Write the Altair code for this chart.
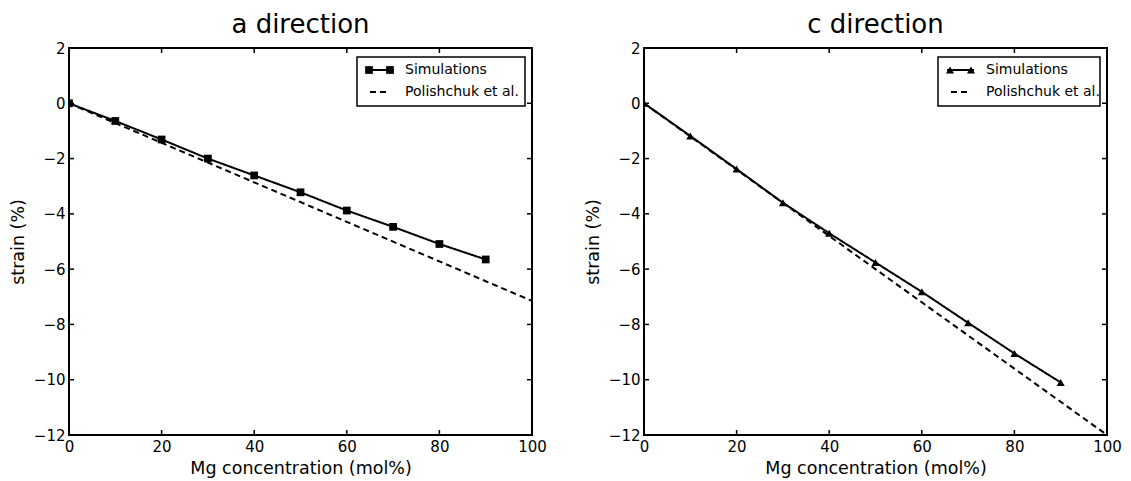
import altair as alt
import pandas as pd

# ---- data ----
conc = [0, 10, 20, 30, 40, 50, 60, 70, 80, 90]
sim_a = [0.0, -0.64, -1.31, -2.00, -2.61, -3.22, -3.88, -4.47, -5.09, -5.65]
sim_c = [0.0, -1.18, -2.38, -3.60, -4.70, -5.76, -6.82, -7.94, -9.05, -10.10]
pol_x = [0, 100]
pol_a = [0.0, -7.15]
pol_c = [0.0, -12.0]
series = ["Simulations", "Polishchuk et al."]
titles = ["a direction", "c direction"]
x_ticks = [0, 20, 40, 60, 80, 100]
y_ticks = [-12, -10, -8, -6, -4, -2, 0, 2]
x_inner = [20, 40, 60, 80]
y_inner = [-10, -8, -6, -4, -2, 0]

W, H = 463, 387
FONT = "DejaVu Sans"
DASH = [6, 4]


def legend_layers(marker, msize, box_w):
    """Legend box drawn in pixel space at the top-right of the panel."""
    x0 = W - 7 - box_w
    x1 = W - 7
    y0, y1 = 9, 58
    r1, r2 = 22, 44
    sx0, sx1 = x0 + 9, x0 + 36
    one = pd.DataFrame({"label": [series[0]]})
    two = pd.DataFrame({"label": [series[1]]})
    box = alt.Chart(one).mark_rect(fill="white", stroke="black", strokeWidth=1.5).encode(
        x=alt.value(x0), x2=alt.value(x1), y=alt.value(y0), y2=alt.value(y1))
    l1 = alt.Chart(one).mark_rule(color="black", strokeWidth=2).encode(
        x=alt.value(sx0), x2=alt.value(sx1), y=alt.value(r1))
    p1a = alt.Chart(one).mark_point(filled=True, shape=marker, size=msize, color="black",
                                    opacity=1).encode(x=alt.value(sx0 + 3), y=alt.value(r1))
    p1b = alt.Chart(one).mark_point(filled=True, shape=marker, size=msize, color="black",
                                    opacity=1).encode(x=alt.value(sx1 - 3), y=alt.value(r1))
    l2 = alt.Chart(two).mark_rule(color="black", strokeWidth=2, strokeDash=DASH).encode(
        x=alt.value(sx0 + 4), x2=alt.value(sx1 - 5), y=alt.value(r2))
    t1 = alt.Chart(one).mark_text(align="left", baseline="middle", font=FONT, fontSize=14,
                                  color="black").encode(
        x=alt.value(sx1 + 12), y=alt.value(r1), text="label:N")
    t2 = alt.Chart(two).mark_text(align="left", baseline="middle", font=FONT, fontSize=14,
                                  color="black").encode(
        x=alt.value(sx1 + 12), y=alt.value(r2), text="label:N")
    return [box, l1, p1a, p1b, l2, t1, t2]


def panel(title, sim, pol, marker, msize, box_w):
    sim_df = pd.DataFrame({"conc": conc, "strain": sim, "series": series[0]})
    pol_df = pd.DataFrame({"conc": pol_x, "strain": pol, "series": series[1]})
    df = pd.concat([sim_df, pol_df], ignore_index=True)

    xs = alt.Scale(domain=[0, 100], nice=False, zero=False)
    ys = alt.Scale(domain=[-12, 2], nice=False, zero=False)
    x = alt.X("conc:Q", scale=xs,
              axis=alt.Axis(values=x_ticks, title="Mg concentration (mol%)"))
    y = alt.Y("strain:Q", scale=ys,
              axis=alt.Axis(values=y_ticks, title="strain (%)"))
    dash = alt.StrokeDash("series:N",
                          scale=alt.Scale(domain=series, range=[[1, 0], DASH]),
                          legend=None)

    lines = (
        alt.Chart(df).mark_line(color="black", strokeWidth=2, clip=True)
        .encode(x=x, y=y, strokeDash=dash, detail="series:N")
    )
    pts = (
        alt.Chart(sim_df)
        .mark_point(filled=True, shape=marker, size=msize, color="black",
                    opacity=1, clip=True)
        .encode(x=x, y=y)
    )
    xt = pd.DataFrame({"conc": x_inner})
    yt = pd.DataFrame({"strain": y_inner})
    tick_top = alt.Chart(xt).mark_rule(color="black", strokeWidth=1.5).encode(
        x=x, y=alt.value(0), y2=alt.value(5))
    tick_bot = alt.Chart(xt).mark_rule(color="black", strokeWidth=1.5).encode(
        x=x, y=alt.value(H - 5), y2=alt.value(H))
    tick_left = alt.Chart(yt).mark_rule(color="black", strokeWidth=1.5).encode(
        y=y, x=alt.value(0), x2=alt.value(5))
    tick_right = alt.Chart(yt).mark_rule(color="black", strokeWidth=1.5).encode(
        y=y, x=alt.value(W - 5), x2=alt.value(W))

    layers = [lines, pts, tick_top, tick_bot, tick_left, tick_right] + legend_layers(marker, msize, box_w)
    return alt.layer(*layers).properties(
        width=W, height=H,
        title=alt.TitleParams(title, fontSize=26, font=FONT, fontWeight="normal",
                              color="black", anchor="middle", offset=3),
    )


left = panel(titles[0], sim_a, pol_a, "square", 60, 168)
right = panel(titles[1], sim_c, pol_c, "triangle-up", 65, 162)

chart = (
    alt.hconcat(left, right, spacing=35)
    .resolve_scale(strokeDash="independent")
    .properties(padding={"left": 0, "top": 3, "right": 0, "bottom": 0})
    .configure_view(stroke="black", strokeWidth=2)
    .configure_axis(grid=False, domain=False, ticks=False, labelFlush=False,
                    labelFont=FONT, labelFontSize=15, labelColor="black", labelPadding=4,
                    titleFont=FONT, titleFontSize=17.5, titleFontWeight="normal",
                    titleColor="black")
    .configure_axisY(titlePadding=6)
    .configure_axisX(titlePadding=5)
)

chart.save("out.html", embed_options={"renderer": "svg", "actions": False})
